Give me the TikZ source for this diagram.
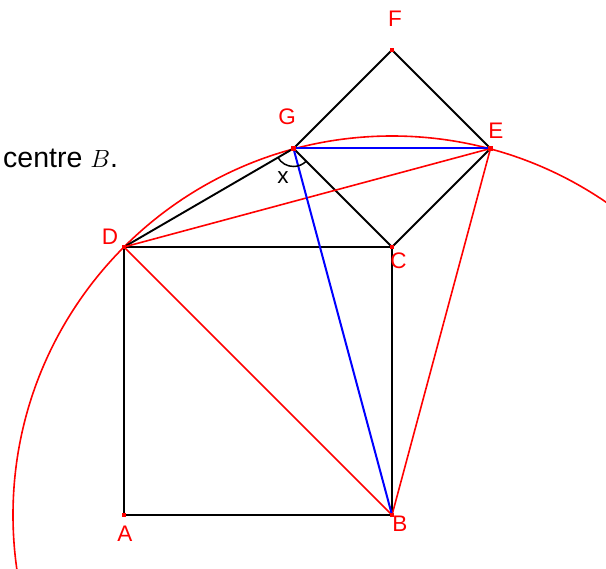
\documentclass[tikz,border=0pt]{standalone}
\usepackage{fontspec}
\setmainfont{Liberation Sans}
\tikzset{
  blk/.style={black,line width=1.9pt,line join=miter},
  redl/.style={red,line width=1.6pt},
  bluel/.style={blue,line width=2pt},
  ptdot/.style={rectangle,fill=red,minimum size=4.5pt,inner sep=0pt},
  lab/.style={text=red,inner sep=0pt,font=\fontsize{22.5}{26}\selectfont},
}
\begin{document}
\begin{tikzpicture}[x=1pt,y=1pt]
\useasboundingbox (0,0) rectangle (606,-569);
\clip (0,0) rectangle (606,-569);
\coordinate (A) at (124,-515);
\coordinate (B) at (392,-515);
\coordinate (C) at (392,-247);
\coordinate (D) at (124,-247);
\coordinate (E) at (490.5,-148.5);
\coordinate (F) at (392,-50);
\coordinate (G) at (293.5,-148.5);
% circle centre B through D
\draw[redl] (B) circle (379pt);
% squares
\draw[blk] (A) -- (B) -- (C) -- (D) -- cycle;
\draw[blk] (C) -- (E) -- (F) -- (G) -- cycle;
\draw[blk] (D) -- (G);
% red lines
\draw[redl] (D) -- (E);
\draw[redl] (D) -- (B);
\draw[redl] (B) -- (E);
% blue lines
\draw[bluel] (G) -- (E);
\draw[bluel] (G) -- (B);
% angle mark
\draw[black,line width=1.5pt] (G) ++(210:18pt) arc[start angle=210,end angle=315,radius=18pt];
\node[inner sep=0pt,font=\fontsize{22.5}{26}\selectfont] (xl) at (283,-178) {x};
% dots
\foreach \p in {A,B,C,D,E,F,G} \node[ptdot] (dot\p) at (\p) {};
% labels
\node[lab] (lA) at (125,-534) {A};
\node[lab] (lB) at (400,-524) {B};
\node[lab] (lC) at (398.5,-261) {C};
\node[lab] (lD) at (110,-237) {D};
\node[lab] (lE) at (496,-131) {E};
\node[lab] (lF) at (395,-19) {F};
\node[lab] (lG) at (287,-117) {G};
\node[anchor=base west,inner sep=0pt,font=\fontsize{28.5}{32}\selectfont] (txt) at (3,-168) {centre $B$.};
\end{tikzpicture}
\end{document}
